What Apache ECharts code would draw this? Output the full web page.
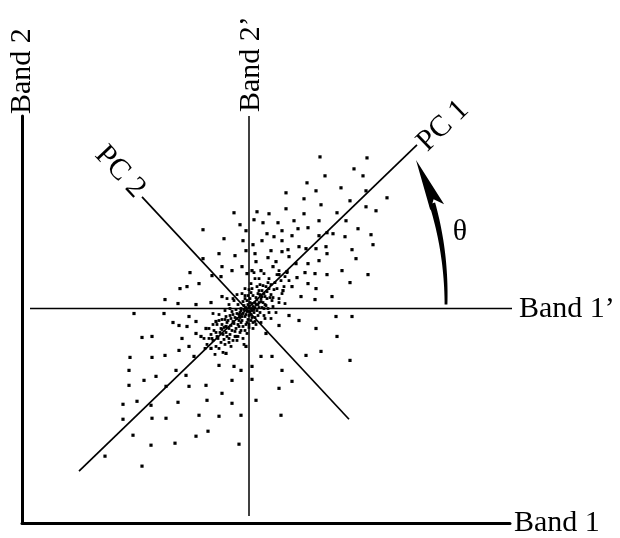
<!DOCTYPE html>
<html><head><meta charset="utf-8">
<script src="https://cdn.jsdelivr.net/npm/echarts@6/dist/echarts.min.js"></script>
<style>html,body{margin:0;padding:0;background:#fff}#c{width:620px;height:538px}</style>
</head><body><div id="c"></div>
<script>
// Scatter cloud (data units; origin at the Band 1' / Band 2' crossing)
const outerDots = [[71,152],[118,151],[105,140],[76,133],[114,133],[58,126],[67,118],[92,121],[37,116],[117,118],[138,111],[55,110],[101,108],[72,104],[117,102],[127,98],[37,100],[-15,96],[8,97],[20,95],[55,95],[88,96],[5,89],[14,86],[29,86],[45,88],[70,88],[97,88],[-9,84],[-3,78],[-46,79],[18,75],[25,72],[33,78],[49,80],[59,81],[78,76],[109,80],[122,74],[-25,70],[-6,68],[4,64],[13,68],[33,68],[43,73],[70,73],[84,75],[96,72],[124,64],[103,59],[107,50],[-30,55],[-14,53],[-3,58],[6,55],[22,58],[33,57],[39,59],[50,62],[57,60],[67,60],[77,62],[78,55],[-46,50],[-27,42],[-7,42],[7,47],[19,51],[27,47],[40,52],[47,45],[59,45],[70,48],[93,38],[119,34],[78,34],[66,35],[56,36],[48,31],[38,37],[30,34],[24,42],[12,38],[3,38],[-2,35],[-17,38],[-28,32],[-37,33],[-59,36],[-50,25],[-69,20],[-62,22],[-84,9],[-71,5],[-53,4],[-38,6],[-27,12],[101,26],[83,12],[66,9],[52,12],[43,22],[34,18],[59,25],[67,20],
[-115,-5],[-85,-5],[-107,-29],[-97,-28],[-119,-49],[-97,-49],[-120,-62],[-120,-77],[-105,-72],[-93,-68],[-84,-47],[-76,-14],[-70,-17],[-67,-30],[-60,-8],[-53,-13],[-48,-28],[-70,-42],[-60,-38],[-55,-48],[-73,-62],[-63,-67],[-83,-78],[-126,-96],[-112,-93],[-98,-97],[-71,-94],[-126,-111],[-97,-110],[-83,-110],[-60,-78],[-43,-77],[-50,-107],[-30,-108],[-17,-95],[-8,-107],[-116,-127],[-98,-137],[-74,-135],[-53,-128],[-41,-123],[-10,-136],[-107,-158],[-144,-148],[-42,-92],[-27,-85],[-17,-72],[-8,-62],[3,-71],[7,-92],[30,-80],[32,-107],[43,-73],[33,-62],[57,-47],[72,-43],[67,-20],[88,-28],[101,-52],[87,-8],[103,-8],[50,-12],[40,-7],[30,-17],[17,-25],[23,-48],[12,-48],[3,-58],[-15,-58],[-30,-57],[-23,-45],[-38,-40],[-43,-20],[-33,-13],[-23,-18],[-13,-28],[-3,-38],[-53,-25],[-62,-18]];

const coreDots = [[0,2],[3,5],[-2,-3],[5,-1],[-5,3],[2,-6],[7,4],[-4,-8],[8,9],[1,10],[-8,0],[10,1],[-1,-11],[4,13],[12,7],[-10,-6],[-6,7],[6,-9],[11,-4],[-11,4],[3,-2],[-3,1],[1,6],[9,-7],[-7,-12],[13,12],[-12,-10],[2,16],[16,4],[-3,-16],[0,-7],[6,1],
[15,15],[18,10],[10,18],[20,20],[22,14],[14,23],[25,19],[19,26],[-15,-15],[-18,-10],[-10,-18],[-20,-20],[-22,-14],[-14,-23],[-25,-19],[-19,-26],[17,3],[20,-4],[-17,-3],[-20,4],[4,-20],[-4,20],[8,22],[23,8],[-8,-22],[-23,-8],[12,-14],[-12,14],[16,-10],[-16,10],[26,26],[-26,-26],[28,20],[20,30],[-28,-20],[-20,-30],[24,2],[-24,-2],[2,25],[-2,-25],[-30,-12],[-12,-32],[30,10],[10,30],[-6,-30],[-30,-6],[6,30],[30,6],
[32,28],[28,34],[35,22],[36,32],[-32,-28],[-28,-34],[-35,-22],[-36,-32],[-40,-30],[-30,-40],[-33,-38],[-38,-26],[38,36],[30,38],[40,28],[-24,-36],[-36,-16],[-18,-38],[-42,-36],[-40,-20],[-26,-44],[33,15],[15,35],[-45,-30],[-34,-46],[-44,-40],
[-7,15],[-15,8],[7,-16],[15,-7],[-9,-4],[9,4],[-2,8],[2,-12],[-13,-1],[13,1],[4,-14],[-4,13],[19,0],[-19,0],[0,19],[0,-19],[22,-10],[-22,10],[11,24],[-11,-28],[24,11],[-27,-11],[-16,-32],[-32,-16],[27,-4],[-5,-36],[-36,-5],[5,36],[36,5],
[-6,-5],[-9,-9],[-3,-6],[1,-3],[4,2],[6,6],[-1,4],[-5,-1],[-8,-14],[-12,-5],[-14,-9],[-16,-13],[-18,-17],[-21,-12],[-11,-16],[-6,-18],[-9,-24],[-17,-22],[-23,-24],[-27,-16],[-29,-24],[-13,-20],[-7,-8],[-2,-14],[3,-9],[5,-4],[8,-2],[10,6],[7,11],[12,10],[14,6],[11,14],[16,12],[18,17],[13,18],[21,11],[-1,13],[-4,10],[3,20],[17,22],[22,24],[9,15],[15,0],[-16,-6],[-19,-7],[-24,-11],[-27,-21],[-31,-30],[-22,-28],[-14,-28],[-37,-30],[-20,-34],[-25,-31],[-33,-24],[-10,-12],[-4,-22],[0,-16],[6,-13],[-8,-2],[2,0]];

// Reference lines (data units)
const band1PrimeLine = [[-219,0],[267,0]];
const band2PrimeLine = [[0,193],[0,-208]];
const pc1Line = [[-170,-163],[168,164]];
const pc2Line = [[-107,112],[100,-111]];
// Rotation arrow: [baseX, baseY, tipX, tipY]
const thetaArrow = [[197,4,167,149]];

// Axis ranges and text
const xRange = [-227, 261];
const yRange = [-215, 193];
const axisNames = ['Band 1', 'Band 2'];
const labelTexts = ['Band 1\u2019', 'Band 2\u2019', 'PC 1', 'PC 2', '\u03b8'];
const labelAnchors = [[267,-1],[2,245],[194,183],[-129,137],[211,77]];
const labelAngles = [0, 90, 44, -47, 0];

const FONT = "'Liberation Serif','Times New Roman',serif";
const INK = '#000';

function lineSeries(pts, w) {
  return { type: 'line', data: pts, symbol: 'none', clip: false, silent: true,
    lineStyle: { color: INK, width: w, opacity: 1 }, z: 2 };
}

const labelData = labelTexts.map((t, i) => ({
  value: labelAnchors[i],
  label: {
    show: true, formatter: t, rotate: labelAngles[i],
    position: i === 0 ? 'right' : 'inside', distance: 3,
    color: INK, opacity: 1, textBorderWidth: 0, fontFamily: FONT, fontSize: 30
  }
}));

const chart = echarts.init(document.getElementById('c'), null, { renderer: 'canvas' });
chart.setOption({
  animation: false,
  backgroundColor: '#fff',
  grid: { left: 22, top: 116, right: 110, bottom: 14 },
  xAxis: { type: 'value', min: xRange[0], max: xRange[1],
    name: axisNames[0], nameLocation: 'end', nameGap: 4,
    nameTextStyle: { color: INK, fontFamily: FONT, fontSize: 30 },
    axisLine: { show: true, onZero: false, lineStyle: { color: INK, width: 3 } },
    axisTick: { show: false }, axisLabel: { show: false }, splitLine: { show: false } },
  yAxis: { type: 'value', min: yRange[0], max: yRange[1],
    name: axisNames[1], nameLocation: 'end', nameGap: 2, nameRotate: 90,
    nameTextStyle: { color: INK, fontFamily: FONT, fontSize: 30 },
    axisLine: { show: true, onZero: false, lineStyle: { color: INK, width: 3 } },
    axisTick: { show: false }, axisLabel: { show: false }, splitLine: { show: false } },
  series: [
    lineSeries(band1PrimeLine, 1.5),
    lineSeries(band2PrimeLine, 1.5),
    lineSeries(pc1Line, 1.7),
    lineSeries(pc2Line, 1.7),
    { type: 'scatter', data: outerDots, symbol: 'rect', symbolSize: 3.2,
      itemStyle: { color: INK, opacity: 1 }, silent: true, z: 3 },
    { type: 'scatter', data: coreDots, symbol: 'rect', symbolSize: 2.8,
      itemStyle: { color: INK, opacity: 1 }, silent: true, z: 3 },
    { type: 'custom', data: thetaArrow, encode: { x: [0, 2], y: [1, 3] }, clip: false, silent: true, z: 4,
      renderItem: function (params, api) {
        const p0 = api.coord([api.value(0), api.value(1)]);
        const p2 = api.coord([api.value(2), api.value(3)]);
        const c = -0.11;
        const cp = [(p0[0] + p2[0]) / 2 - (p0[1] - p2[1]) * c, (p0[1] + p2[1]) / 2 - (p2[0] - p0[0]) * c];
        const B = t => [(1-t)*(1-t)*p0[0] + 2*(1-t)*t*cp[0] + t*t*p2[0], (1-t)*(1-t)*p0[1] + 2*(1-t)*t*cp[1] + t*t*p2[1]];
        const D = t => [2*(1-t)*(cp[0]-p0[0]) + 2*t*(p2[0]-cp[0]), 2*(1-t)*(cp[1]-p0[1]) + 2*t*(p2[1]-cp[1])];
        const L = 52, hw = 7.5;
        let ux = p2[0] - cp[0], uy = p2[1] - cp[1];
        const ul = Math.hypot(ux, uy); ux /= ul; uy /= ul;
        const nx = -uy, ny = ux;
        const bc = [p2[0] - ux * L, p2[1] - uy * L];
        const notch = [p2[0] - ux * (L - 9), p2[1] - uy * (L - 9)];
        let tEnd = 1;
        for (let t = 1; t > 0; t -= 0.005) { const q = B(t); if (Math.hypot(q[0]-p2[0], q[1]-p2[1]) >= L - 6) { tEnd = t; break; } }
        const left = [], right = [];
        const N = 24;
        for (let i = 0; i <= N; i++) {
          const t = tEnd * i / N; const q = B(t); const d = D(t); const dl = Math.hypot(d[0], d[1]);
          const w = 1.4 + 1.7 * (i / N);
          const mx = -d[1] / dl, my = d[0] / dl;
          left.push([q[0] + mx * w, q[1] + my * w]);
          right.push([q[0] - mx * w, q[1] - my * w]);
        }
        const shaft = left.concat(right.reverse());
        return { type: 'group', children: [
          { type: 'polygon', shape: { points: shaft }, style: { fill: INK } },
          { type: 'polygon', shape: { points: [p2, [bc[0] + nx * hw, bc[1] + ny * hw], notch, [bc[0] - nx * hw, bc[1] - ny * hw]] }, style: { fill: INK } }
        ] };
      } },
    { type: 'scatter', data: labelData, symbolSize: 0, clip: false, silent: true, z: 5,
      itemStyle: { color: 'rgba(0,0,0,0)', opacity: 1 } }
  ]
});
</script>
</body></html>
